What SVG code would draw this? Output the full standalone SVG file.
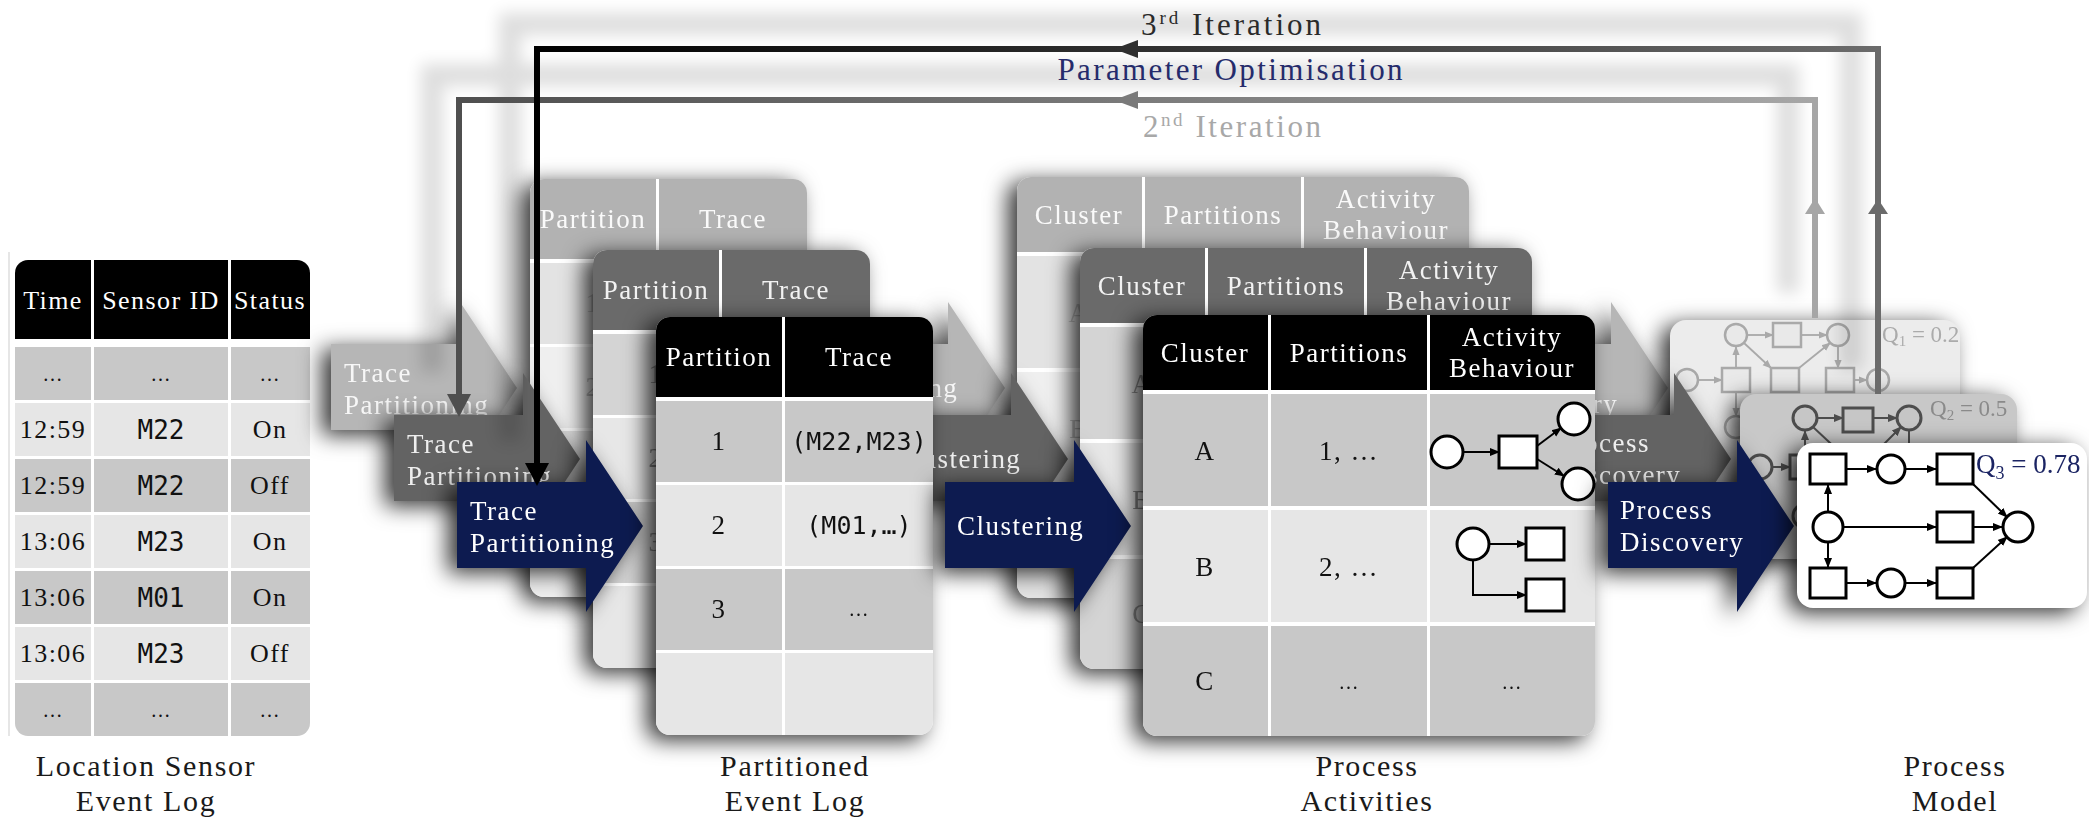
<svg xmlns="http://www.w3.org/2000/svg" width="2089" height="821" viewBox="0 0 2089 821">
<defs>
<style>
text{font-family:"Liberation Serif","Times New Roman",serif;letter-spacing:.055em}
.m{font-family:"DejaVu Sans Mono","Liberation Mono",monospace;letter-spacing:0}
.c{text-anchor:middle}
.z{letter-spacing:0}
.bg{fill:#fff}
.hdr{fill:var(--hdr,#000)}
.ra{fill:var(--ra,#c8c8c8)}
.rb{fill:var(--rb,#e6e6e6)}
.ht{fill:var(--ht,#fff)}
.bt{fill:var(--bt,#111)}
.arw{fill:var(--arw,#0d1b50)}
.at{fill:var(--at,#fff)}
.pn{fill:#fff;stroke:var(--bt,#000);stroke-width:3}
.pa{fill:none;stroke:var(--bt,#000);stroke-width:2;marker-end:url(#mk0)}
.q0n{fill:#fff;stroke:#000;stroke-width:3}
.q0a{fill:none;stroke:#000;stroke-width:2;marker-end:url(#mk0)}
.q1n{fill:#e9e9e9;stroke:#a9a9a9;stroke-width:2.5}
.q1a{fill:none;stroke:#a9a9a9;stroke-width:1.8;marker-end:url(#mk1)}
.q2n{fill:#c6c6c6;stroke:#4d4d4d;stroke-width:3}
.q2a{fill:none;stroke:#4d4d4d;stroke-width:2;marker-end:url(#mk2)}
.cap{font-size:30px;fill:#1a1a1a;text-anchor:middle}
.it2{--hdr:#6a6a6a;--ra:#d4d4d4;--rb:#e7e7e7;--ht:#f2f2f2;--bt:#8a8a8a;--arw:#636363;--at:#eee}
.it1{--hdr:#b2b2b2;--ra:#e3e3e3;--rb:#efefef;--ht:#fafafa;--bt:#bdbdbd;--arw:#b6b6b6;--at:#f7f7f7}
</style>
<filter id="shadow" x="-25%" y="-25%" width="150%" height="150%" color-interpolation-filters="sRGB">
  <feDropShadow dx="-9" dy="5" stdDeviation="11" flood-color="#000" flood-opacity="0.8"/>
</filter>
<filter id="haze" x="-10%" y="-15%" width="120%" height="130%">
  <feGaussianBlur stdDeviation="8"/>
</filter>
<marker id="mk0" viewBox="0 0 10 10" refX="9" refY="5" markerWidth="5" markerHeight="5" orient="auto"><path d="M0,1L10,5L0,9Z" fill="#000"/></marker>
<marker id="mk1" viewBox="0 0 10 10" refX="9" refY="5" markerWidth="5" markerHeight="5" orient="auto"><path d="M0,1L10,5L0,9Z" fill="#a9a9a9"/></marker>
<marker id="mk2" viewBox="0 0 10 10" refX="9" refY="5" markerWidth="5" markerHeight="5" orient="auto"><path d="M0,1L10,5L0,9Z" fill="#4d4d4d"/></marker>
<clipPath id="clip-loc"><rect x="15" y="260" width="295" height="476" rx="13"/></clipPath>
<clipPath id="clip-part"><rect x="656" y="317" width="277" height="418" rx="14"/></clipPath>
<clipPath id="clip-clu"><rect x="1143" y="315" width="452" height="421" rx="14"/></clipPath>
<linearGradient id="g3" gradientUnits="userSpaceOnUse" x1="537" y1="0" x2="1878" y2="0"><stop offset="0" stop-color="#000"/><stop offset="1" stop-color="#6b6b6b"/></linearGradient>
<linearGradient id="g2" gradientUnits="userSpaceOnUse" x1="459" y1="0" x2="1815" y2="0"><stop offset="0" stop-color="#4f4f4f"/><stop offset="1" stop-color="#a6a6a6"/></linearGradient>
</defs>

<rect width="2089" height="821" fill="#fff"/>

<!-- input event log -->
<g id="location-sensor-event-log">
  <line x1="9" y1="252" x2="9" y2="736" stroke="#e6e6e6" stroke-width="2"/>
  <rect class="bg" x="15" y="260" width="295" height="476" rx="13"/>
  <g clip-path="url(#clip-loc)">
    <rect class="hdr" x="15" y="260" width="76" height="79"/><rect class="hdr" x="94" y="260" width="134" height="79"/><rect class="hdr" x="231" y="260" width="79" height="79"/>
    <rect class="ra" x="15" y="347" width="76" height="53"/><rect class="ra" x="94" y="347" width="134" height="53"/><rect class="ra" x="231" y="347" width="79" height="53"/>
    <rect class="rb" x="15" y="403" width="76" height="53"/><rect class="rb" x="94" y="403" width="134" height="53"/><rect class="rb" x="231" y="403" width="79" height="53"/>
    <rect class="ra" x="15" y="459" width="76" height="53"/><rect class="ra" x="94" y="459" width="134" height="53"/><rect class="ra" x="231" y="459" width="79" height="53"/>
    <rect class="rb" x="15" y="515" width="76" height="53"/><rect class="rb" x="94" y="515" width="134" height="53"/><rect class="rb" x="231" y="515" width="79" height="53"/>
    <rect class="ra" x="15" y="571" width="76" height="53"/><rect class="ra" x="94" y="571" width="134" height="53"/><rect class="ra" x="231" y="571" width="79" height="53"/>
    <rect class="rb" x="15" y="627" width="76" height="53"/><rect class="rb" x="94" y="627" width="134" height="53"/><rect class="rb" x="231" y="627" width="79" height="53"/>
    <rect class="ra" x="15" y="683" width="76" height="53"/><rect class="ra" x="94" y="683" width="134" height="53"/><rect class="ra" x="231" y="683" width="79" height="53"/>
  </g>
  <g class="ht c" font-size="26">
    <text x="53" y="309">Time</text><text x="161" y="309">Sensor ID</text><text x="270" y="309">Status</text>
  </g>
  <g class="bt c" font-size="26">
    <text x="53" y="381" font-size="20">…</text><text x="161" y="381" font-size="20">…</text><text x="270" y="381" font-size="20">…</text>
    <text x="53" y="438">12:59</text><text class="m" x="161" y="439">M22</text><text x="270" y="438">On</text>
    <text x="53" y="494">12:59</text><text class="m" x="161" y="495">M22</text><text x="270" y="494">Off</text>
    <text x="53" y="550">13:06</text><text class="m" x="161" y="551">M23</text><text x="270" y="550">On</text>
    <text x="53" y="606">13:06</text><text class="m" x="161" y="607">M01</text><text x="270" y="606">On</text>
    <text x="53" y="662">13:06</text><text class="m" x="161" y="663">M23</text><text x="270" y="662">Off</text>
    <text x="53" y="717" font-size="20">…</text><text x="161" y="717" font-size="20">…</text><text x="270" y="717" font-size="20">…</text>
  </g>
</g>

<!-- first iteration (back) -->
<g id="iteration-1">
  <use id="trace-partitioning-1" href="#trace-partitioning" class="it1" transform="translate(-126,-138)"/>
  <use id="partitioned-event-log-1" href="#partitioned-event-log" class="it1" transform="translate(-126,-138)"/>
  <use id="clustering-1" href="#clustering" class="it1" transform="translate(-126,-138)"/>
  <use id="process-activities-1" href="#process-activities" class="it1" transform="translate(-126,-138)"/>
  <use id="process-discovery-1" href="#process-discovery" class="it1" transform="translate(-126,-138)"/>
  <g id="process-model-1" filter="url(#shadow)">
    <rect x="1670" y="320" width="290" height="165" rx="16" fill="#ececec"/>
    <path class="q1a" d="M1698,380H1722"/>
    <path class="q1a" d="M1736,368V347"/>
    <path class="q1a" d="M1736,392V416"/>
    <path class="q1a" d="M1747,335H1773"/>
    <path class="q1a" d="M1801,335H1827"/>
    <path class="q1a" d="M1744,343L1771,368"/>
    <path class="q1a" d="M1799,368L1830,343"/>
    <path class="q1a" d="M1838,346V368"/>
    <path class="q1a" d="M1854,380H1867"/>
    <circle class="q1n" cx="1736" cy="335" r="11"/>
    <rect class="q1n" x="1773" y="323" width="28" height="24"/>
    <circle class="q1n" cx="1838" cy="335" r="11"/>
    <circle class="q1n" cx="1687" cy="380" r="11"/>
    <rect class="q1n" x="1722" y="368" width="28" height="24"/>
    <rect class="q1n" x="1771" y="368" width="28" height="24"/>
    <rect class="q1n" x="1826" y="368" width="28" height="24"/>
    <circle class="q1n" cx="1878" cy="380" r="11"/>
    <circle class="q1n" cx="1736" cy="427" r="11"/>
    <text class="z" x="1882" y="342" fill="#ababab" font-size="23">Q<tspan font-size="15" dy="4">1</tspan><tspan dy="-4"> = 0.2</tspan></text>
  </g>
</g>

<!-- second iteration (middle) -->
<g id="iteration-2">
  <use id="trace-partitioning-2" href="#trace-partitioning" class="it2" transform="translate(-63,-67)"/>
  <use id="partitioned-event-log-2" href="#partitioned-event-log" class="it2" transform="translate(-63,-67)"/>
  <use id="clustering-2" href="#clustering" class="it2" transform="translate(-63,-67)"/>
  <use id="process-activities-2" href="#process-activities" class="it2" transform="translate(-63,-67)"/>
  <use id="process-discovery-2" href="#process-discovery" class="it2" transform="translate(-63,-67)"/>
  <g id="process-model-2" filter="url(#shadow)">
    <rect x="1740" y="394" width="277" height="165" rx="16" fill="#c8c8c8"/>
    <path class="q2a" d="M1772,467H1790"/>
    <path class="q2a" d="M1805,455V431"/>
    <path class="q2a" d="M1805,479V503"/>
    <path class="q2a" d="M1817,418H1843"/>
    <path class="q2a" d="M1873,418H1897"/>
    <path class="q2a" d="M1813,427L1843,455"/>
    <path class="q2a" d="M1873,455L1901,427"/>
    <path class="q2a" d="M1909,430V455"/>
    <path class="q2a" d="M1924,467H1943"/>
    <circle class="q2n" cx="1805" cy="418" r="12"/>
    <rect class="q2n" x="1843" y="408" width="30" height="24"/>
    <circle class="q2n" cx="1909" cy="418" r="12"/>
    <circle class="q2n" cx="1760" cy="467" r="12"/>
    <rect class="q2n" x="1790" y="455" width="30" height="24"/>
    <rect class="q2n" x="1843" y="455" width="30" height="24"/>
    <rect class="q2n" x="1894" y="455" width="30" height="24"/>
    <circle class="q2n" cx="1955" cy="467" r="12"/>
    <circle class="q2n" cx="1805" cy="516" r="12"/>
    <text class="z" x="1930" y="416" fill="#8a8a8a" font-size="23">Q<tspan font-size="15" dy="4">2</tspan><tspan dy="-4"> = 0.5</tspan></text>
  </g>
</g>

<!-- third iteration (front) -->
<g id="iteration-3">
  <g id="trace-partitioning" filter="url(#shadow)">
    <path class="arw" d="M457,482H586V440L643,526L586,612V568H457Z"/>
    <g class="at" font-size="27">
      <text x="470" y="520">Trace</text>
      <text x="470" y="552">Partitioning</text>
    </g>
  </g>

  <g id="partitioned-event-log" filter="url(#shadow)">
    <rect class="bg" x="656" y="317" width="277" height="418" rx="14"/>
    <g clip-path="url(#clip-part)">
      <rect class="hdr" x="656" y="317" width="126" height="80"/><rect class="hdr" x="785" y="317" width="148" height="80"/>
      <rect class="ra" x="656" y="401" width="126" height="81"/><rect class="ra" x="785" y="401" width="148" height="81"/>
      <rect class="rb" x="656" y="485" width="126" height="81"/><rect class="rb" x="785" y="485" width="148" height="81"/>
      <rect class="ra" x="656" y="569" width="126" height="81"/><rect class="ra" x="785" y="569" width="148" height="81"/>
      <rect class="rb" x="656" y="653" width="126" height="82"/><rect class="rb" x="785" y="653" width="148" height="82"/>
    </g>
    <g class="ht c" font-size="27">
      <text x="719" y="366">Partition</text><text x="859" y="366">Trace</text>
    </g>
    <g class="bt c" font-size="27">
      <text x="719" y="450">1</text><text class="m" x="859" y="450" font-size="25">(M22,M23)</text>
      <text x="719" y="534">2</text><text class="m" x="859" y="534" font-size="25">(M01,…)</text>
      <text x="719" y="618">3</text><text x="859" y="616" font-size="20">…</text>
    </g>
  </g>

  <g id="clustering" filter="url(#shadow)">
    <path class="arw" d="M945,482H1074V440L1131,526L1074,612V568H945Z"/>
    <text class="at" x="957" y="535" font-size="27">Clustering</text>
  </g>

  <g id="process-activities" filter="url(#shadow)">
    <rect class="bg" x="1143" y="315" width="452" height="421" rx="14"/>
    <g clip-path="url(#clip-clu)">
      <rect class="hdr" x="1143" y="315" width="125" height="75"/><rect class="hdr" x="1271" y="315" width="156" height="75"/><rect class="hdr" x="1430" y="315" width="165" height="75"/>
      <rect class="ra" x="1143" y="394" width="125" height="112"/><rect class="ra" x="1271" y="394" width="156" height="112"/><rect class="ra" x="1430" y="394" width="165" height="112"/>
      <rect class="rb" x="1143" y="510" width="125" height="112"/><rect class="rb" x="1271" y="510" width="156" height="112"/><rect class="rb" x="1430" y="510" width="165" height="112"/>
      <rect class="ra" x="1143" y="626" width="125" height="110"/><rect class="ra" x="1271" y="626" width="156" height="110"/><rect class="ra" x="1430" y="626" width="165" height="110"/>
    </g>
    <g class="ht c" font-size="27">
      <text x="1205" y="362">Cluster</text><text x="1349" y="362">Partitions</text>
      <text x="1512" y="346">Activity</text><text x="1512" y="377">Behaviour</text>
    </g>
    <g class="bt c" font-size="27">
      <text x="1205" y="460">A</text><text x="1349" y="460">1, …</text>
      <text x="1205" y="576">B</text><text x="1349" y="576">2, …</text>
      <text x="1205" y="690">C</text><text x="1349" y="689" font-size="20">…</text><text x="1512" y="689" font-size="20">…</text>
    </g>
    <!-- behaviour of cluster A -->
    <path class="pa" d="M1463,452H1499"/>
    <path class="pa" d="M1537,446L1561,428"/>
    <path class="pa" d="M1537,459L1564,476"/>
    <circle class="pn" cx="1447" cy="452" r="16"/>
    <rect class="pn" x="1499" y="436" width="38" height="32"/>
    <circle class="pn" cx="1574" cy="419" r="16"/>
    <circle class="pn" cx="1578" cy="484" r="16"/>
    <!-- behaviour of cluster B -->
    <path class="pa" d="M1489,544H1526"/>
    <path class="pa" d="M1473,560V595H1526"/>
    <circle class="pn" cx="1473" cy="544" r="16"/>
    <rect class="pn" x="1526" y="528" width="38" height="32"/>
    <rect class="pn" x="1526" y="579" width="38" height="32"/>
  </g>

  <g id="process-discovery" filter="url(#shadow)">
    <path class="arw" d="M1608,482H1737V440L1794,526L1737,612V568H1608Z"/>
    <g class="at" font-size="27">
      <text x="1620" y="519">Process</text>
      <text x="1620" y="551">Discovery</text>
    </g>
  </g>

  <g id="process-model" filter="url(#shadow)">
    <rect x="1797" y="443" width="290" height="165" rx="16" fill="#fff"/>
    <path class="q0a" d="M1828,512V485"/>
    <path class="q0a" d="M1828,542V567"/>
    <path class="q0a" d="M1843,527H1936"/>
    <path class="q0a" d="M1846,469H1876"/>
    <path class="q0a" d="M1905,469H1936"/>
    <path class="q0a" d="M1846,583H1876"/>
    <path class="q0a" d="M1905,583H1936"/>
    <path class="q0a" d="M1973,484L2007,517"/>
    <path class="q0a" d="M1973,527H2002"/>
    <path class="q0a" d="M1973,568L2007,537"/>
    <rect class="q0n" x="1810" y="454" width="36" height="30"/>
    <circle class="q0n" cx="1891" cy="469" r="14"/>
    <rect class="q0n" x="1937" y="454" width="36" height="30"/>
    <circle class="q0n" cx="1828" cy="527" r="15"/>
    <rect class="q0n" x="1937" y="512" width="36" height="30"/>
    <circle class="q0n" cx="2018" cy="527" r="15"/>
    <rect class="q0n" x="1810" y="568" width="36" height="30"/>
    <circle class="q0n" cx="1891" cy="583" r="14"/>
    <rect class="q0n" x="1937" y="568" width="36" height="30"/>
    <text class="z" x="1976" y="473" fill="#1b2463" font-size="27">Q<tspan font-size="18" dy="6">3</tspan><tspan dy="-6"> = 0.78</tspan></text>
  </g>
</g>

<!-- feedback loops between iterations -->
<g id="connectors">
  <g filter="url(#haze)" opacity="0.13" transform="translate(-27,-25)" fill="none" stroke="#000" stroke-width="22">
    <path d="M1878,394V49H537V466"/>
    <path d="M1815,318V100H459V397"/>
  </g>
  <path d="M1815,318V100H459V397" fill="none" stroke="url(#g2)" stroke-width="6"/>
  <polygon points="447,394 471,394 459,417" fill="#4f4f4f"/>
  <polygon points="1805,214 1825,214 1815,198" fill="#a6a6a6"/>
  <polygon points="1138,91 1138,109 1114,100" fill="#7a7a7a"/>
  <path d="M1878,394V49H537V466" fill="none" stroke="url(#g3)" stroke-width="6"/>
  <polygon points="525,463 549,463 537,486" fill="#000"/>
  <polygon points="1868,214 1888,214 1878,199" fill="#6b6b6b"/>
  <polygon points="1138,40 1138,58 1114,49" fill="#2f2f2f"/>
  <text class="c z" x="1231" y="35" font-size="31" fill="#2a2a2a" textLength="180">3<tspan font-size="19" dy="-11">rd</tspan><tspan dy="11"> Iteration</tspan></text>
  <text class="c z" x="1230" y="80" font-size="31" fill="#252b6b" textLength="345">Parameter Optimisation</text>
  <text class="c z" x="1232" y="137" font-size="31" fill="#a8a8a8" textLength="178">2<tspan font-size="19" dy="-11">nd</tspan><tspan dy="11"> Iteration</tspan></text>
</g>

<g id="captions">
  <text class="cap" x="146" y="776">Location Sensor</text>
  <text class="cap" x="146" y="811">Event Log</text>
  <text class="cap" x="795" y="776">Partitioned</text>
  <text class="cap" x="795" y="811">Event Log</text>
  <text class="cap" x="1367" y="776">Process</text>
  <text class="cap" x="1367" y="811">Activities</text>
  <text class="cap" x="1955" y="776">Process</text>
  <text class="cap" x="1955" y="811">Model</text>
</g>
</svg>
